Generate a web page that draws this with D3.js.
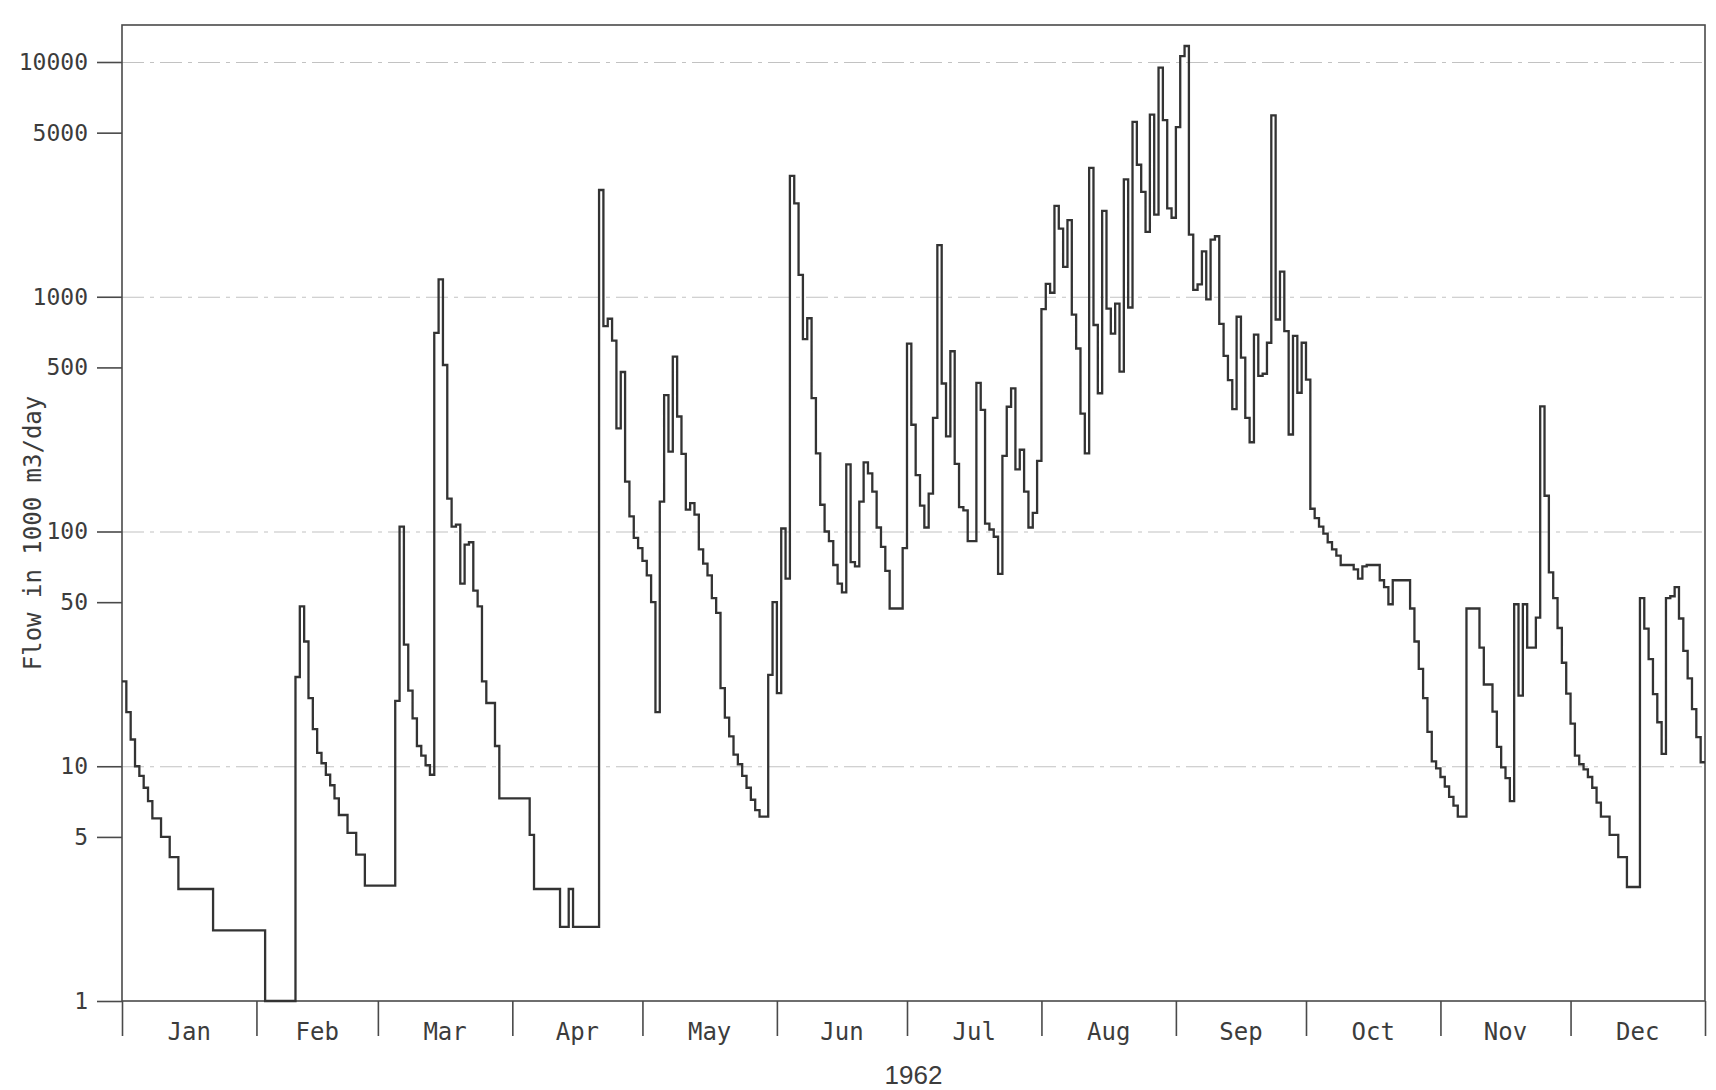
<!DOCTYPE html>
<html>
<head>
<meta charset="utf-8">
<script src="https://cdn.jsdelivr.net/npm/d3@7"></script>
<style>
  body { margin: 0; background: #fff; }
  #chart text { font-family: "DejaVu Sans Mono", monospace; fill: #3c3c3c; }
</style>
</head>
<body>
<svg id="chart"></svg>
<script>
// daily flow, 1000 m3/day
const jan = [23, 17, 13, 10, 9.1, 8.1, 7.1, 6.0, 6.0, 5.0, 5.0, 4.1, 4.1,
  3.0, 3.0, 3.0, 3.0, 3.0, 3.0, 3.0, 3.0,
  2.0, 2.0, 2.0, 2.0, 2.0, 2.0, 2.0, 2.0, 2.0, 2.0];
const feb = [2.0, 2.0, 1, 1, 1, 1, 1, 1, 1, 24, 48, 34, 19.5, 14.4, 11.4, 10.3, 9.2,
  8.3, 7.3, 6.2, 6.2, 5.2, 5.2, 4.2, 4.2, 3.1, 3.1, 3.1];
const mar = [3.1, 3.1, 3.1, 3.1, 19, 105, 33, 21, 16, 12.2, 11.1, 10.1, 9.2, 702, 1185,
  512, 138, 105, 107, 60, 88, 90, 56, 48, 23, 18.6, 18.6, 12.2, 7.3, 7.3, 7.3];
const apr = [7.3, 7.3, 7.3, 7.3, 5.1, 3.0, 3.0, 3.0, 3.0, 3.0, 3.0, 2.07, 2.07, 3.0,
  2.07, 2.07, 2.07, 2.07, 2.07, 2.07, 2850, 750, 806, 650, 275, 478, 163, 116, 94, 85];
const may = [75, 65, 50, 17, 134, 381, 219, 556, 309, 214, 124, 132, 118, 84, 73, 65,
  52, 45, 21.5, 16.1, 13.4, 11.2, 10.2, 9.1, 8.1, 7.2, 6.5, 6.1, 6.1, 24.5, 50];
const jun = [20.5, 103, 63, 3270, 2500, 1240, 660, 810, 370, 215, 130, 100, 91, 72, 60,
  55, 193, 74, 71, 134, 197, 177, 148, 104, 86, 68, 47, 47, 47, 85];
const jul = [631, 285, 174, 129, 104, 145, 305, 1660, 427, 254, 586, 194, 127, 123, 91,
  91, 430, 330, 108, 102, 95, 66, 210, 340, 407, 184, 223, 148, 104, 120, 200];
const aug = [885, 1135, 1040, 2440, 1950, 1340, 2120, 840, 602, 318, 215, 3540, 758, 388,
  2320, 890, 696, 935, 480, 3160, 900, 5560, 3650, 2800, 1890, 5970, 2240, 9460, 5650,
  2380, 2170];
const sep = [5280, 10600, 11700, 1840, 1070, 1130, 1560, 975, 1750, 1810, 767, 560, 441,
  332, 822, 550, 305, 240, 690, 460, 470, 637, 5930, 800, 1280, 714, 259, 681, 390, 637];
const oct = [444, 125, 114, 105, 98, 90, 84, 79, 72, 72, 72, 69, 63, 71, 72, 72, 72, 62,
  58, 49, 62, 62, 62, 62, 47, 34, 26, 19.5, 14, 10.5, 9.8];
const nov = [9.0, 8.2, 7.4, 6.8, 6.1, 6.1, 47, 47, 47, 32, 22.3, 22.3, 17.1, 12.1, 9.9,
  8.9, 7.1, 49, 20, 49, 32, 32, 43, 341, 142, 67, 52, 38.8, 27.6, 20.4];
const dec = [15.2, 11.1, 10.2, 9.7, 9.0, 8.1, 7.0, 6.1, 6.1, 5.1, 5.1, 4.1, 4.1, 3.06,
  3.06, 3.06, 52, 38.6, 28.6, 20.3, 15.4, 11.3, 52, 53, 58, 42.6, 31, 23.7, 17.5, 13.3,
  10.4];

const monthNames = ["Jan", "Feb", "Mar", "Apr", "May", "Jun", "Jul", "Aug", "Sep", "Oct", "Nov", "Dec"];
const yTicks = [1, 5, 10, 50, 100, 500, 1000, 5000, 10000];
const gridValues = [10, 100, 1000, 10000];
const yearLabel = "1962";
const yTitle = "Flow in 1000 m3/day";

const width = 1716, height = 1090;
const plotL = 122, plotR = 1705, plotT = 25, plotB = 1001;

const byMonth = [jan, feb, mar, apr, may, jun, jul, aug, sep, oct, nov, dec];
const flow = [].concat(...byMonth);
const monthStarts = [0].concat(Array.from(d3.cumsum(byMonth.map(m => m.length))));

const svg = d3.select("#chart")
  .attr("width", width)
  .attr("height", height);

const x = d3.scaleLinear()
  .domain([0, flow.length])
  .range([plotL, plotR]);

const y = d3.scaleLog()
  .domain([1, 10000])
  .range([plotB, 62]);

// faint decade grid
svg.append("g")
  .attr("transform", `translate(${plotL},0)`)
  .call(d3.axisLeft(y).tickValues(gridValues).tickSize(-(plotR - plotL)).tickFormat(""))
  .call(g => g.select(".domain").remove())
  .selectAll("line")
  .attr("stroke", "#c2c2c2")
  .attr("stroke-width", 1.2)
  .attr("stroke-dasharray", "22,6,4,6");

// frame
svg.append("rect")
  .attr("x", plotL)
  .attr("y", plotT)
  .attr("width", plotR - plotL)
  .attr("height", plotB - plotT)
  .attr("fill", "none")
  .attr("stroke", "#4a4a4a")
  .attr("stroke-width", 1.6);

// y axis
const yAxis = svg.append("g")
  .attr("transform", `translate(${plotL},0)`)
  .call(d3.axisLeft(y).tickValues(yTicks).tickFormat(d3.format("d")).tickSize(25).tickPadding(9));
yAxis.select(".domain").remove();
yAxis.selectAll("line").attr("stroke", "#4a4a4a").attr("stroke-width", 1.6);
yAxis.selectAll("text").style("font-size", "23px");

// month ticks
const xAxis = svg.append("g")
  .attr("transform", `translate(0,${plotB})`)
  .call(d3.axisBottom(x).tickValues(monthStarts).tickSize(35).tickFormat(""));
xAxis.select(".domain").remove();
xAxis.selectAll("line").attr("stroke", "#4a4a4a").attr("stroke-width", 1.6);

svg.append("g")
  .selectAll("text")
  .data(monthNames)
  .join("text")
  .attr("x", (d, i) => x((monthStarts[i] + monthStarts[i + 1]) / 2))
  .attr("y", plotB + 39)
  .attr("text-anchor", "middle")
  .style("font-size", "24px")
  .text(d => d);

svg.append("text")
  .attr("x", (plotL + plotR) / 2)
  .attr("y", 1084)
  .attr("text-anchor", "middle")
  .style("font-family", "'Liberation Sans', Arial, sans-serif")
  .style("font-size", "26px")
  .text(yearLabel);

svg.append("text")
  .attr("transform", `translate(41,${(plotT + plotB) / 2 + 20}) rotate(-90)`)
  .attr("text-anchor", "middle")
  .style("font-size", "24px")
  .text(yTitle);

// daily step trace
const pts = flow.map((v, i) => [i, v]);
pts.push([flow.length, flow[flow.length - 1]]);

svg.append("path")
  .datum(pts)
  .attr("fill", "none")
  .attr("stroke", "#333")
  .attr("stroke-width", 2.3)
  .attr("stroke-linejoin", "miter")
  .attr("d", d3.line()
    .x(d => x(d[0]))
    .y(d => y(d[1]))
    .curve(d3.curveStepAfter));
</script>
</body>
</html>
